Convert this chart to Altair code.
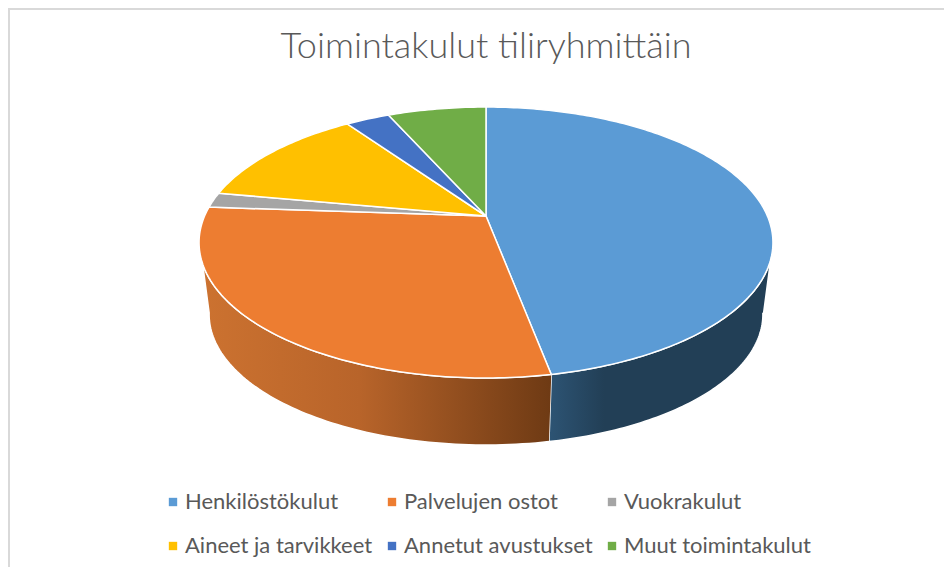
import numpy as np
import pandas as pd
import altair as alt

TITLE = "Toimintakulut tiliryhmittäin"
categories = ["Henkilöstökulut", "Palvelujen ostot", "Vuokrakulut",
              "Aineet ja tarvikkeet", "Annetut avustukset", "Muut toimintakulut"]
values = [47.0, 29.1, 1.8, 12.4, 3.0, 6.7]
colors = ["#5B9BD5", "#ED7D31", "#A5A5A5", "#FFC000", "#4472C4", "#70AD47"]

# perspective of the tilted disc
K = 0.1956
XS, YS = 281.4, 130.3
DEPTH = -72.7 / YS
SHRINK = 0.965
CX, CY = 486.0, 216.0
PAD_TOP = 80
W, H = 936, 479


def rim(t):
    u, v = np.sin(t), np.cos(t)
    w = 1 + K * v
    return u / w, v / w


def wedge(a0, a1):
    n = max(int((a1 - a0) * 60), 3)
    t = np.linspace(a0, a1, n)
    p, q = rim(t)
    return np.r_[0.0, p, 0.0], np.r_[0.0, q, 0.0]


def wall_df(top0, top1, bot0, bot1):
    p0, q0 = rim(np.linspace(top0, top1, 80))
    p1, q1 = rim(np.linspace(bot1, bot0, 80))
    xs = np.r_[p0, p1 * SHRINK]
    ys = np.r_[q0, q1 * SHRINK + DEPTH]
    return pd.DataFrame({"i": range(len(xs)), "p": xs, "q": ys})


edges = np.r_[0, np.cumsum(values)] / np.sum(values) * 2 * np.pi
rows = []
for name, a0, a1 in zip(categories, edges[:-1], edges[1:]):
    xs, ys = wedge(a0, a1)
    rows += [{"series": name, "i": i, "p": x, "q": y} for i, (x, y) in enumerate(zip(xs, ys))]
faces = pd.DataFrame(rows)

x_scale = alt.Scale(domain=[(0 + 8 - CX) / XS, (W + 8 - CX) / XS], nice=False, zero=False)
y_scale = alt.Scale(domain=[(CY - (H + 8 + PAD_TOP)) / YS, (CY - (8 + PAD_TOP)) / YS], nice=False, zero=False)
X = alt.X("p:Q", scale=x_scale, axis=None)
Y = alt.Y("q:Q", scale=y_scale, axis=None)

blue_grad = alt.Gradient(gradient="linear", x1=1, x2=0, y1=0, y2=0, stops=[
    alt.GradientStop(color="#223F56", offset=0),
    alt.GradientStop(color="#223F56", offset=0.75),
    alt.GradientStop(color="#2D5474", offset=1)])
orange_grad = alt.Gradient(gradient="linear", x1=0, x2=1, y1=0, y2=0, stops=[
    alt.GradientStop(color="#CC7230", offset=0),
    alt.GradientStop(color="#B8642A", offset=0.45),
    alt.GradientStop(color="#6E3A14", offset=1)])

RAD = np.radians
wall_blue = alt.Chart(wall_df(RAD(110), edges[1], RAD(100.6), edges[1])).mark_line(
    fill=blue_grad, stroke="#ffffff", strokeWidth=1.5
).encode(x=X, y=Y, order="i:Q")
wall_orange = alt.Chart(wall_df(edges[1], RAD(250), edges[1], RAD(259.4))).mark_line(
    fill=orange_grad, stroke="#ffffff", strokeWidth=1.5
).encode(x=X, y=Y, order="i:Q")

top = alt.Chart(faces).mark_line(stroke="#ffffff", strokeWidth=1.5).encode(
    x=X, y=Y, order="i:Q", detail="series:N",
    fill=alt.Fill("series:N", scale=alt.Scale(domain=categories, range=colors), legend=alt.Legend(
        title=None, orient="none", legendX=154, legendY=403, columns=3, direction="horizontal",
        symbolType="square", symbolSize=70, symbolStrokeWidth=0,
        labelFont="Lato", labelFontSize=22, labelColor="#595959", labelLimit=300,
        columnPadding=8, rowPadding=22, labelOffset=1, values=categories)),
)

frame_top = alt.Chart(pd.DataFrame({"a": [0]})).mark_rule(color="#d9d9d9", strokeWidth=2).encode(
    x=alt.value(0), x2=alt.value(W), y=alt.value(-PAD_TOP + 1))
frame_left = alt.Chart(pd.DataFrame({"a": [0]})).mark_rule(color="#d9d9d9", strokeWidth=2).encode(
    x=alt.value(1), y=alt.value(-PAD_TOP), y2=alt.value(H))

chart = alt.layer(frame_top, frame_left, wall_blue, wall_orange, top).properties(
    width=W, height=H,
    padding={"left": 0, "top": PAD_TOP, "right": 0, "bottom": 0},
    autosize=alt.AutoSizeParams(type="none"),
    title=alt.TitleParams(TITLE, font="Lato", fontSize=36, fontWeight=300, color="#595959",
                          anchor="middle", frame="group", dx=10, offset=-59),
).configure_view(stroke=None)

chart.save("out.html", embed_options={"renderer": "svg", "actions": False})
